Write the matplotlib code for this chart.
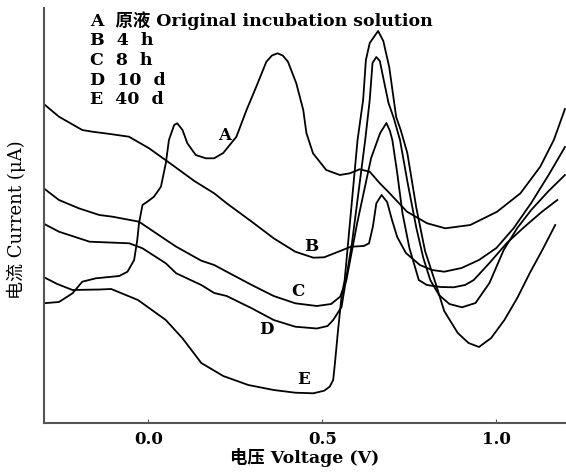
import matplotlib.pyplot as plt

plt.rcParams['font.family'] = ['DejaVu Serif', 'Noto Sans CJK SC']

# Cyclic voltammetry curves, current in arbitrary units (no y scale in the source)
volt_a = [-0.303, -0.257, -0.218, -0.190, -0.151, -0.084, -0.060, -0.041, -0.032, -0.027,
          -0.017, -0.003, 0.016, 0.036, 0.050, 0.059, 0.074, 0.083, 0.098, 0.112,
          0.136, 0.165, 0.189, 0.215, 0.253, 0.282, 0.310, 0.339, 0.355, 0.371,
          0.386, 0.401, 0.425, 0.445, 0.454, 0.473, 0.511, 0.550, 0.579, 0.607,
          0.636, 0.665, 0.689, 0.743, 0.801, 0.853, 0.925, 1.002, 1.069, 1.126,
          1.165, 1.197]
curr_a = [119.7, 121, 129.7, 141.3, 144.7, 147, 151.3, 163, 183, 199.7,
          218, 221.3, 226.3, 236.3, 259.7, 283, 298, 299.7, 293, 279.7,
          268, 264.7, 264.7, 270, 286.3, 313, 336.3, 361.3, 367.5, 369.7,
          367.5, 361.3, 339.7, 313, 290, 269.7, 253, 248, 249.7, 253.7,
          251.3, 239.7, 231.3, 211.3, 199.7, 194.7, 198, 211.3, 229.7, 256.3,
          283, 314]

volt_b = [-0.303, -0.257, -0.190, -0.161, -0.110, -0.056, 0.002, 0.069, 0.132, 0.189,
          0.225, 0.297, 0.360, 0.422, 0.474, 0.505, 0.546, 0.582, 0.619, 0.634,
          0.645, 0.655, 0.670, 0.686, 0.700, 0.715, 0.740, 0.780, 0.815, 0.850,
          0.900, 0.950, 1.000, 1.050, 1.100, 1.150, 1.197]
curr_b = [319.7, 306.3, 293, 291.3, 289, 286.3, 274.7, 258, 242, 229.7,
          219.7, 201.3, 184.7, 171.3, 165.3, 165.7, 171.3, 176.3, 177, 179.7,
          196.3, 219.7, 228, 221, 203, 186, 170, 158, 153, 151.3,
          155, 163, 175, 195, 220, 248, 276]

volt_c = [-0.303, -0.257, -0.200, -0.141, -0.103, -0.027, 0.051, 0.080, 0.152, 0.189,
          0.225, 0.297, 0.360, 0.422, 0.484, 0.525, 0.551, 0.569, 0.600, 0.640,
          0.666, 0.684, 0.694, 0.701, 0.715, 0.730, 0.750, 0.777, 0.800, 0.840,
          0.877, 0.910, 0.935, 0.980, 1.030, 1.080, 1.130, 1.175]
curr_c = [235.3, 223, 214.7, 208, 206.3, 201.3, 183, 176.3, 162.3, 158,
          151.3, 138, 127, 119.7, 117, 119, 126.3, 143, 200, 265,
          290, 300, 292, 283, 250, 210, 175, 143, 138, 136,
          135.7, 138, 143, 160, 180, 196, 211, 223]

volt_d = [-0.303, -0.257, -0.169, -0.055, -0.017, 0.050, 0.080, 0.152, 0.189, 0.225,
          0.297, 0.360, 0.422, 0.484, 0.515, 0.531, 0.555, 0.585, 0.623, 0.636,
          0.644, 0.655, 0.665, 0.675, 0.690, 0.705, 0.723, 0.745, 0.770, 0.790,
          0.810, 0.835, 0.865, 0.901, 0.940, 0.980, 1.021, 1.060, 1.100, 1.150,
          1.197]
curr_d = [199.7, 191.3, 181.3, 179.7, 174.7, 159.7, 149.7, 138, 130, 127,
          114.7, 103, 96.3, 94.5, 97, 103, 116, 180, 283, 323,
          360, 366, 362, 345, 320, 305, 283, 240, 195, 165,
          143, 128, 119, 115.7, 120, 140, 173, 195, 213, 232,
          248]

volt_e = [-0.303, -0.262, -0.218, -0.140, -0.107, -0.030, 0.050, 0.098, 0.152, 0.186,
          0.215, 0.287, 0.360, 0.422, 0.474, 0.505, 0.521, 0.531, 0.536, 0.545,
          0.555, 0.564, 0.601, 0.617, 0.625, 0.636, 0.660, 0.675, 0.692, 0.712,
          0.725, 0.744, 0.770, 0.795, 0.825, 0.850, 0.889, 0.920, 0.950, 0.985,
          1.023, 1.060, 1.096, 1.135, 1.169]
curr_e = [146.3, 139, 133, 133.5, 134, 123, 103, 84.7, 60, 53,
          47, 38, 33, 30.3, 29.7, 32.3, 36.3, 43, 59.7, 93,
          126.3, 143, 283, 323, 363, 380, 392, 382, 356, 306,
          293, 270, 215, 172, 140, 112, 90, 80, 76, 85,
          103, 125, 150, 175, 198]

legend_lines = ['A  原液 Original incubation solution', 'B  4  h', 'C  8  h',
                'D  10  d', 'E  40  d']
curve_names = ['A', 'B', 'C', 'D', 'E']
label_volt = [0.2195, 0.468, 0.430, 0.339, 0.445]
label_curr = [288, 176.3, 131.3, 93, 43.7]

fig = plt.figure(figsize=(5.66, 4.72), dpi=100)
ax = fig.add_axes([44 / 566, 49 / 472, 1 - 44 / 566, 415 / 472])

for v, c in [(volt_a, curr_a), (volt_b, curr_b), (volt_c, curr_c),
             (volt_d, curr_d), (volt_e, curr_e)]:
    ax.plot(v, c, color='black', lw=1.3)

for name, v, c in zip(curve_names, label_volt, label_curr):
    ax.text(v, c, name, ha='center', va='center', fontsize=12, fontweight='bold')

for i, line in enumerate(legend_lines):
    ax.text(90 / 566, 1 - (21 + 19.7 * i) / 472, line, transform=fig.transFigure,
            ha='left', va='center', fontsize=12.5, fontweight='bold')

ax.set_xlim(-0.3, 1.2)
ax.set_ylim(0, 415)
ax.set_xticks([0.0, 0.5, 1.0])
ax.set_xticklabels(['0.0', '0.5', '1.0'], fontsize=12, fontweight='bold')
ax.set_yticks([])
ax.tick_params(axis='x', direction='in', length=3, color='#555555', pad=6)
for s in ['top', 'right']:
    ax.spines[s].set_visible(False)
for s in ['left', 'bottom']:
    ax.spines[s].set_linewidth(1.5)
    ax.spines[s].set_color('#555555')

ax.set_xlabel('电压 Voltage (V)', fontsize=12.5, fontweight='bold', labelpad=0)
ax.set_ylabel('电流 Current (μA)', fontsize=13)
ax.yaxis.set_label_coords(-0.034, 0.49)

fig.savefig('out.png', dpi=100)
